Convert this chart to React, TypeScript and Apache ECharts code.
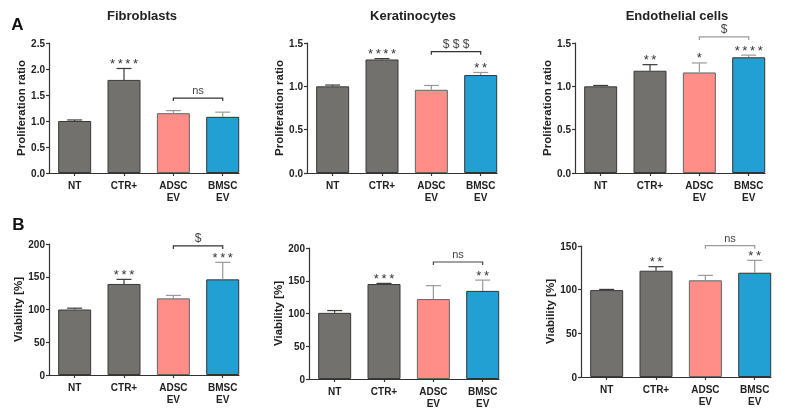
import React, { useEffect, useRef } from "react";
import * as echarts from "echarts";

const categories = ["NT", "CTR+", "ADSC\nEV", "BMSC\nEV"];

// Proliferation ratio (A)
const fibroProlif = [1.0, 1.79, 1.15, 1.08];
const fibroProlifErr = [1.02, 2.01, 1.2, 1.17];
const keratProlif = [1.0, 1.31, 0.96, 1.13];
const keratProlifErr = [1.015, 1.32, 1.01, 1.16];
const endoProlif = [1.0, 1.18, 1.16, 1.335];
const endoProlifErr = [1.01, 1.25, 1.27, 1.36];

// Viability [%] (B)
const fibroViab = [100, 139, 117, 146];
const fibroViabErr = [102, 146, 121.5, 172];
const keratViab = [101, 145, 122, 134.5];
const keratViabErr = [104.5, 146, 142.5, 151];
const endoViab = [99.5, 121.7, 110.7, 119.4];
const endoViabErr = [100.3, 126.3, 116.4, 133.6];

// significance marks
const fibroProlifStars = ["", "****", "", ""];
const keratProlifStars = ["", "****", "", "**"];
const endoProlifStars = ["", "**", "*", "****"];
const fibroViabStars = ["", "***", "", "***"];
const keratViabStars = ["", "***", "", "**"];
const endoViabStars = ["", "**", "", "**"];

// ADSC EV vs BMSC EV comparison brackets
const bracketLabels = ["ns", "$$$", "$", "$", "ns", "ns"];
const bracketLevels = [1.44, 1.4, 1.57, 197, 178.6, 150.4];

const titles = ["Fibroblasts", "Keratinocytes", "Endothelial cells"];
const yMaxes = [2.5, 1.5, 1.5, 200, 200, 150];
const yIntervals = [0.5, 0.5, 0.5, 50, 50, 50];
const yNames = [
  "Proliferation ratio",
  "Proliferation ratio",
  "Proliferation ratio",
  "Viability [%]",
  "Viability [%]",
  "Viability [%]",
];

const values = [fibroProlif, keratProlif, endoProlif, fibroViab, keratViab, endoViab];
const errors = [fibroProlifErr, keratProlifErr, endoProlifErr, fibroViabErr, keratViabErr, endoViabErr];
const stars = [fibroProlifStars, keratProlifStars, endoProlifStars, fibroViabStars, keratViabStars, endoViabStars];

// layout / style
const layout = [
  { left: 49, top: 43, height: 130, nameGap: 22, bracketColor: "#333" },
  { left: 307, top: 43, height: 130, nameGap: 21, bracketColor: "#333" },
  { left: 575, top: 43, height: 130, nameGap: 19, bracketColor: "#9a9a9a" },
  { left: 49, top: 244, height: 131, nameGap: 22, bracketColor: "#333" },
  { left: 309, top: 248, height: 131, nameGap: 24, bracketColor: "#444" },
  { left: 581, top: 246, height: 131, nameGap: 22, bracketColor: "#9a9a9a" },
];
const barColors = ["#72716e", "#72716e", "#ff8d88", "#22a0d3"];
const barBorders = ["#3a3a3a", "#3a3a3a", "#666", "#333"];
const errColors = ["#3a3a3a", "#3a3a3a", "#999", "#999"];
const FONT = '"Liberation Sans", Arial, sans-serif';
const THIN = "\u2009";

export default function App() {
  const ref = useRef<HTMLDivElement>(null);
  useEffect(() => {
    if (!ref.current) return;
    const chart = echarts.init(ref.current, null, { renderer: "svg" });

    const grid: any[] = [];
    const xAxis: any[] = [];
    const yAxis: any[] = [];
    const series: any[] = [];

    layout.forEach((L, p) => {
      grid.push({ left: L.left, top: L.top, width: 190, height: L.height });
      xAxis.push({
        type: "value",
        gridIndex: p,
        min: -0.52,
        max: 3.33,
        splitLine: { show: false },
        axisLine: { show: true, onZero: false, lineStyle: { color: "#333", width: 1.2 } },
        axisTick: { show: true, customValues: [0, 1, 2, 3], length: 3, lineStyle: { color: "#333", width: 1.2 } },
        axisLabel: {
          customValues: [0, 1, 2, 3],
          formatter: (v: number) => categories[Math.round(v)],
          fontFamily: FONT,
          fontWeight: "bold",
          fontSize: 10,
          lineHeight: 12,
          color: "#222",
          margin: 6,
        },
      });
      yAxis.push({
        type: "value",
        gridIndex: p,
        min: 0,
        max: yMaxes[p],
        interval: yIntervals[p],
        name: yNames[p],
        nameLocation: "middle",
        nameGap: L.nameGap,
        nameTextStyle: { fontFamily: FONT, fontWeight: "bold", fontSize: 11.5, color: "#222" },
        splitLine: { show: false },
        axisLine: { show: true, onZero: false, lineStyle: { color: "#333", width: 1.2 } },
        axisTick: { show: true, length: 3, lineStyle: { color: "#333", width: 1.2 } },
        axisLabel: {
          formatter: (v: number) => (p < 3 ? v.toFixed(1) : String(v)),
          fontFamily: FONT,
          fontWeight: "bold",
          fontSize: 10,
          color: "#222",
          margin: 4,
        },
      });

      series.push({
        type: "bar",
        xAxisIndex: p,
        yAxisIndex: p,
        barWidth: 33,
        data: values[p].map((v, i) => ({
          value: [i, v],
          itemStyle: { color: barColors[i], borderColor: barBorders[i], borderWidth: 1 },
        })),
      });

      const st = stars[p];
      series.push({
        type: "custom",
        xAxisIndex: p,
        yAxisIndex: p,
        z: 3,
        data: values[p].map((v, i) => [i, v, errors[p][i]]),
        renderItem: (params: any, api: any) => {
          const x = api.value(0);
          const a = api.coord([x, api.value(1)]);
          const b = api.coord([x, api.value(2)]);
          const idx = params.dataIndex;
          const c = errColors[idx];
          const children: any[] = [
            { type: "line", shape: { x1: a[0], y1: a[1], x2: b[0], y2: b[1] }, style: { stroke: c, lineWidth: 1.2 } },
            { type: "line", shape: { x1: b[0] - 7.5, y1: b[1], x2: b[0] + 7.5, y2: b[1] }, style: { stroke: c, lineWidth: 1.2 } },
          ];
          if (st[idx]) {
            children.push({
              type: "text",
              style: {
                text: st[idx].split("").join(THIN),
                x: b[0],
                y: b[1] - 5,
                align: "center",
                verticalAlign: "middle",
                font: `13px ${FONT}`,
                fill: "#333",
              },
            });
          }
          return { type: "group", children };
        },
      });

      series.push({
        type: "custom",
        xAxisIndex: p,
        yAxisIndex: p,
        z: 3,
        clip: false,
        data: [[2, 3, bracketLevels[p]]],
        renderItem: (params: any, api: any) => {
          const a = api.coord([api.value(0), api.value(2)]);
          const b = api.coord([api.value(1), api.value(2)]);
          const col = L.bracketColor;
          const lbl = bracketLabels[p];
          const isNs = lbl === "ns";
          return {
            type: "group",
            children: [
              {
                type: "polyline",
                shape: { points: [[a[0], a[1] + 3], [a[0], a[1]], [b[0], b[1]], [b[0], b[1] + 3]] },
                style: { stroke: col, lineWidth: 1.2, fill: "none" },
              },
              {
                type: "text",
                style: {
                  text: isNs ? lbl : lbl.split("").join(" "),
                  x: (a[0] + b[0]) / 2,
                  y: a[1] - 8,
                  align: "center",
                  verticalAlign: "middle",
                  font: `${isNs ? 11 : 12}px ${FONT}`,
                  fill: "#444",
                },
              },
            ],
          };
        },
      });
    });

    const titleX = [142, 413, 677];
    const graphic: any[] = titles.map((t, i) => ({
      type: "text",
      x: titleX[i],
      y: 15,
      style: { text: t, align: "center", verticalAlign: "middle", font: `bold 13px ${FONT}`, fill: "#222" },
    }));
    graphic.push(
      { type: "text", x: 17.5, y: 24, style: { text: "A", align: "center", verticalAlign: "middle", font: `bold 17px ${FONT}`, fill: "#111" } },
      { type: "text", x: 18.5, y: 224, style: { text: "B", align: "center", verticalAlign: "middle", font: `bold 17px ${FONT}`, fill: "#111" } }
    );

    chart.setOption({
      animation: false,
      backgroundColor: "#fff",
      grid,
      xAxis,
      yAxis,
      series,
      graphic,
    });
    return () => chart.dispose();
  }, []);

  return (
    <div
      ref={ref}
      style={{ position: "fixed", left: 0, top: 0, width: 790, height: 411, willChange: "transform" }}
    />
  );
}
